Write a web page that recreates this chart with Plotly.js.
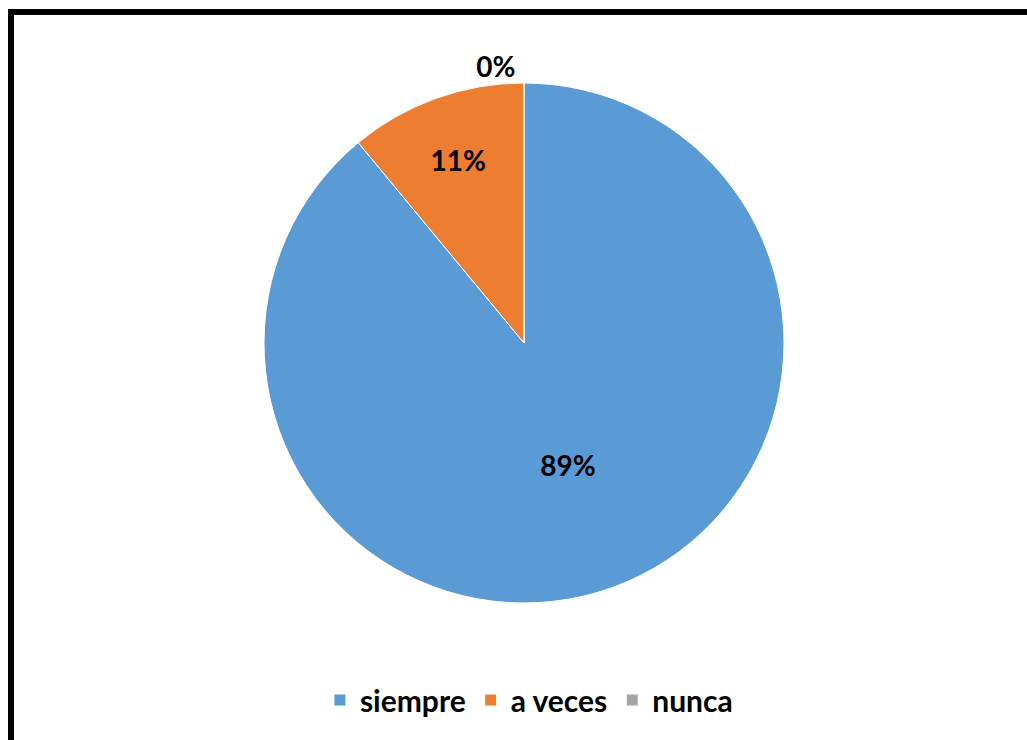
<!DOCTYPE html>
<html>
<head>
<meta charset="utf-8">
<script src="https://cdn.plot.ly/plotly-3.0.1.min.js"></script>
<style>html,body{margin:0;padding:0;background:#fff;}#chart{width:1027px;height:740px;}</style>
</head>
<body>
<div id="chart"></div>
<script>
const categories = ["siempre", "a veces", "nunca"];
const percentValues = [89, 11, 0];
const sliceColors = ["#5B9BD5", "#ED7D31", "#A5A5A5"];

const W = 1027, H = 740;
const trace = {
  type: "pie",
  labels: categories,
  values: percentValues,
  sort: false,
  direction: "clockwise",
  rotation: 0,
  marker: {colors: sliceColors, line: {color: "#ffffff", width: 1}},
  textinfo: "percent",
  texttemplate: "%{percent:.0%}",
  textposition: ["inside", "inside", "outside"],
  insidetextorientation: "horizontal",
  textfont: {family: "Lato, 'Open Sans', sans-serif", size: 28, color: "#000000", weight: "bold"},
  domain: {x: [(524 - 260) / W, (524 + 260) / W], y: [1 - (343 + 260) / H, 1 - (343 - 260) / H]},
  hoverinfo: "label+percent"
};

const layout = {
  width: W, height: H,
  margin: {l: 0, r: 0, t: 0, b: 0},
  paper_bgcolor: "#ffffff",
  showlegend: true,
  legend: {
    orientation: "h", x: 0.515, xanchor: "center", y: 1 - 700 / H, yanchor: "middle",
    font: {family: "Lato, 'Open Sans', sans-serif", size: 30, color: "#000000", weight: "bold"},
    itemwidth: 30, traceorder: "normal"
  },
  shapes: [
    {type: "rect", xref: "paper", yref: "paper", x0: 8 / W, x1: 14 / W, y0: 0, y1: 1 - 9 / H, fillcolor: "#000000", line: {width: 0}, layer: "above"},
    {type: "rect", xref: "paper", yref: "paper", x0: 8 / W, x1: 1, y0: 1 - 15 / H, y1: 1 - 9 / H, fillcolor: "#000000", line: {width: 0}, layer: "above"}
  ]
};

Plotly.newPlot("chart", [trace], layout, {displayModeBar: false, staticPlot: true});
</script>
</body>
</html>
